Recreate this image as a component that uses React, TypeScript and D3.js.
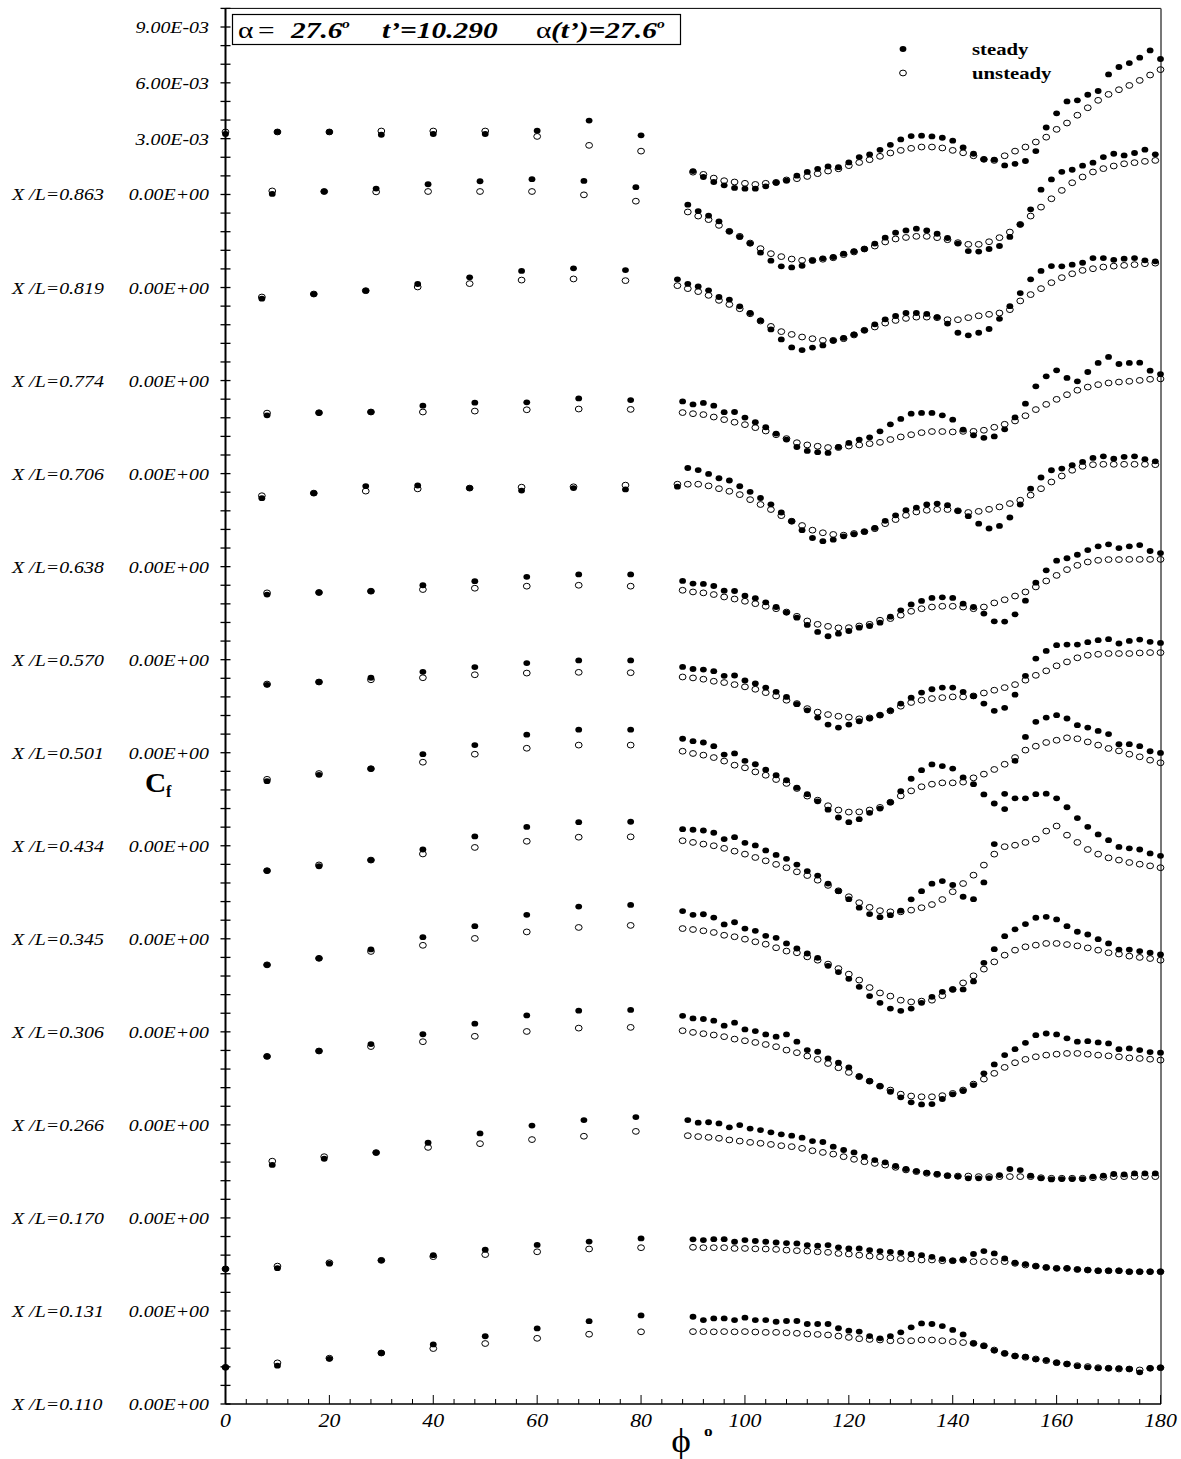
import React from "react";
import * as d3 from "d3";

const WIDTH = 1181;
const HEIGHT = 1459;
const FONT = "'Liberation Serif', 'Times New Roman', serif";

// Axial stations, bottom to top. Each one is lifted by STATION_SHIFT (x 1e-3).
const stations = ["0.110", "0.131", "0.170", "0.266", "0.306", "0.345", "0.434", "0.501", "0.570", "0.638", "0.706", "0.774", "0.819", "0.863"];
const STATION_SHIFT = 5;
// first azimuth of the coarse (every 10 deg) and fine (every 2 deg) samples
const sparseStart = [0, 0, 9, 8, 8, 8, 8, 8, 8, 7, 8, 7, 9, 0];
const denseStart = [90, 90, 89, 88, 88, 88, 88, 88, 88, 87, 88, 87, 89, 90];
const SPARSE_STEP = 10;
const DENSE_STEP = 2;

const topTickValues = [3, 6, 9];
const topTickLabels = ["3.00E-03", "6.00E-03", "9.00E-03"];
const xTickValues = [0, 20, 40, 60, 80, 100, 120, 140, 160, 180];

// Skin friction Cf x 1e3
// X/L = 0.110
const sparseSteady110 = [1.97, 2.06, 2.43, 2.74, 3.2, 3.64, 4.06, 4.45, 4.76];
const sparseUnsteady110 = [1.97, 2.21, 2.46, 2.74, 2.98, 3.25, 3.53, 3.75, 3.88];
const denseSteady110 = [4.69, 4.51, 4.6, 4.6, 4.51, 4.64, 4.51, 4.51, 4.42, 4.46, 4.46, 4.3, 4.3, 4.3, 4.07, 3.94, 3.89, 3.65, 3.53, 3.65, 3.85, 4.12, 4.33, 4.3, 4.19, 3.98, 3.74, 3.26, 3.12, 2.87, 2.72, 2.58, 2.54, 2.4, 2.36, 2.22, 2.15, 2.04, 1.97, 1.92, 1.92, 1.92, 1.88, 1.7, 1.92, 1.95];
const denseUnsteady110 = [3.89, 3.89, 3.88, 3.89, 3.88, 3.89, 3.87, 3.85, 3.85, 3.83, 3.8, 3.76, 3.74, 3.71, 3.65, 3.58, 3.51, 3.47, 3.44, 3.4, 3.4, 3.4, 3.44, 3.44, 3.4, 3.35, 3.3, 3.26, 3.13, 2.9, 2.72, 2.58, 2.51, 2.42, 2.33, 2.22, 2.15, 2.06, 2.01, 1.95, 1.92, 1.88, 1.88, 1.83, 1.92, 1.95];
// X/L = 0.131
const sparseSteady131 = [2.26, 2.3, 2.54, 2.72, 3.0, 3.29, 3.55, 3.73, 3.9];
const sparseUnsteady131 = [2.26, 2.41, 2.59, 2.72, 2.92, 3.03, 3.18, 3.33, 3.4];
const denseSteady131 = [3.85, 3.81, 3.86, 3.86, 3.72, 3.81, 3.76, 3.72, 3.68, 3.65, 3.63, 3.54, 3.51, 3.54, 3.42, 3.36, 3.36, 3.27, 3.22, 3.18, 3.13, 3.06, 3.0, 2.91, 2.79, 2.7, 2.77, 3.06, 3.22, 3.09, 2.82, 2.59, 2.52, 2.41, 2.34, 2.29, 2.29, 2.23, 2.2, 2.16, 2.16, 2.16, 2.11, 2.11, 2.11, 2.11];
const denseUnsteady131 = [3.42, 3.4, 3.4, 3.4, 3.36, 3.36, 3.34, 3.33, 3.31, 3.27, 3.24, 3.22, 3.18, 3.15, 3.09, 3.06, 3.0, 2.95, 2.91, 2.86, 2.82, 2.79, 2.74, 2.74, 2.7, 2.7, 2.74, 2.65, 2.65, 2.65, 2.65, 2.56, 2.47, 2.41, 2.34, 2.29, 2.29, 2.23, 2.2, 2.16, 2.16, 2.16, 2.11, 2.11, 2.11, 2.11];
// X/L = 0.170
const sparseSteady170 = [2.85, 3.18, 3.51, 4.04, 4.54, 4.96, 5.26, 5.42];
const sparseUnsteady170 = [3.05, 3.29, 3.51, 3.79, 3.99, 4.21, 4.39, 4.65];
const denseSteady170 = [5.26, 5.12, 5.14, 5.08, 4.87, 4.99, 4.8, 4.72, 4.6, 4.49, 4.42, 4.31, 4.13, 4.08, 3.83, 3.65, 3.52, 3.29, 3.11, 2.99, 2.79, 2.63, 2.52, 2.43, 2.36, 2.27, 2.22, 2.13, 2.13, 2.14, 2.3, 2.63, 2.57, 2.27, 2.13, 2.07, 2.09, 2.09, 2.09, 2.22, 2.27, 2.36, 2.34, 2.39, 2.39, 2.39];
const denseUnsteady170 = [4.42, 4.37, 4.33, 4.28, 4.19, 4.13, 4.06, 4.01, 3.95, 3.88, 3.83, 3.74, 3.61, 3.52, 3.43, 3.29, 3.15, 3.02, 2.93, 2.84, 2.72, 2.58, 2.49, 2.4, 2.34, 2.27, 2.25, 2.25, 2.22, 2.22, 2.22, 2.22, 2.22, 2.22, 2.16, 2.13, 2.13, 2.13, 2.13, 2.16, 2.18, 2.22, 2.22, 2.22, 2.22, 2.22];
// X/L = 0.266
const sparseSteady266 = [3.68, 3.97, 4.34, 4.87, 5.44, 5.88, 6.14, 6.18];
const sparseUnsteady266 = [3.68, 3.97, 4.21, 4.47, 4.76, 5.02, 5.2, 5.24];
const denseSteady266 = [5.86, 5.72, 5.69, 5.6, 5.33, 5.49, 5.13, 5.04, 4.86, 4.74, 4.86, 4.47, 4.02, 3.93, 3.57, 3.34, 3.09, 2.62, 2.35, 2.08, 1.78, 1.48, 1.21, 1.1, 1.12, 1.39, 1.64, 1.82, 2.14, 2.77, 3.25, 3.75, 4.07, 4.41, 4.82, 4.91, 4.86, 4.65, 4.47, 4.5, 4.43, 4.38, 4.07, 4.11, 4.02, 3.91, 3.88];
const denseUnsteady266 = [5.06, 4.97, 4.9, 4.83, 4.74, 4.61, 4.52, 4.43, 4.32, 4.2, 4.02, 3.88, 3.7, 3.52, 3.3, 3.07, 2.82, 2.59, 2.35, 2.08, 1.87, 1.65, 1.55, 1.51, 1.51, 1.57, 1.69, 1.87, 2.19, 2.46, 2.77, 3.09, 3.34, 3.52, 3.66, 3.75, 3.8, 3.84, 3.84, 3.8, 3.75, 3.71, 3.66, 3.6, 3.57, 3.53, 3.48];
// X/L = 0.306
const sparseSteady306 = [3.6, 3.95, 4.43, 5.09, 5.68, 6.29, 6.73, 6.82];
const sparseUnsteady306 = [3.6, 3.95, 4.32, 4.65, 5.02, 5.37, 5.61, 5.72];
const denseSteady306 = [6.49, 6.29, 6.32, 6.14, 5.77, 5.89, 5.55, 5.43, 5.16, 5.05, 4.75, 4.48, 4.21, 3.98, 3.55, 3.21, 2.85, 2.42, 1.92, 1.56, 1.25, 1.13, 1.25, 1.56, 1.88, 2.15, 2.28, 2.28, 2.71, 3.71, 4.44, 5.14, 5.51, 5.79, 6.13, 6.18, 6.04, 5.68, 5.38, 5.23, 4.98, 4.75, 4.42, 4.42, 4.34, 4.25, 4.16];
const denseUnsteady306 = [5.55, 5.5, 5.43, 5.34, 5.19, 5.11, 4.98, 4.84, 4.71, 4.52, 4.34, 4.25, 4.03, 3.85, 3.64, 3.4, 3.1, 2.78, 2.38, 2.09, 1.92, 1.7, 1.61, 1.65, 1.7, 1.94, 2.28, 2.63, 3.01, 3.37, 3.76, 4.12, 4.39, 4.57, 4.66, 4.75, 4.75, 4.69, 4.62, 4.51, 4.39, 4.25, 4.18, 4.07, 4.0, 3.94, 3.85];
// X/L = 0.345
const sparseSteady345 = [3.66, 3.9, 4.23, 4.8, 5.5, 6.01, 6.27, 6.29];
const sparseUnsteady345 = [3.66, 3.97, 4.23, 4.56, 4.91, 5.24, 5.46, 5.48];
const denseSteady345 = [5.89, 5.86, 5.82, 5.7, 5.36, 5.46, 5.16, 5.02, 4.75, 4.51, 4.3, 3.99, 3.64, 3.4, 2.97, 2.56, 2.13, 1.67, 1.33, 1.16, 1.27, 1.51, 2.12, 2.56, 2.96, 3.1, 2.89, 2.26, 2.13, 3.03, 5.09, 7.79, 7.55, 7.55, 7.77, 7.8, 7.55, 7.07, 6.49, 6.02, 5.61, 5.3, 4.94, 4.86, 4.8, 4.59, 4.46];
const denseUnsteady345 = [5.27, 5.18, 5.09, 5.0, 4.86, 4.71, 4.55, 4.37, 4.19, 4.0, 3.82, 3.6, 3.4, 3.15, 2.87, 2.58, 2.26, 1.94, 1.69, 1.51, 1.45, 1.45, 1.54, 1.67, 1.84, 2.11, 2.53, 2.97, 3.42, 3.96, 4.55, 4.95, 5.03, 5.18, 5.36, 5.79, 6.06, 5.57, 5.18, 4.8, 4.55, 4.35, 4.23, 4.1, 4.01, 3.92, 3.82];
// X/L = 0.434
const sparseSteady434 = [3.47, 3.81, 4.14, 4.92, 5.41, 5.97, 6.24, 6.24];
const sparseUnsteady434 = [3.57, 3.88, 4.14, 4.49, 4.92, 5.24, 5.41, 5.41];
const denseSteady434 = [5.75, 5.62, 5.55, 5.35, 4.9, 4.96, 4.56, 4.38, 4.09, 3.79, 3.52, 3.12, 2.77, 2.39, 1.94, 1.52, 1.27, 1.43, 1.77, 2.0, 2.33, 2.93, 3.6, 4.06, 4.37, 4.28, 4.15, 3.67, 3.31, 2.76, 2.27, 1.97, 4.56, 5.85, 6.66, 6.89, 7.02, 6.84, 6.48, 6.35, 6.17, 6.0, 5.46, 5.46, 5.35, 5.08, 4.99];
const denseUnsteady434 = [5.08, 4.96, 4.87, 4.74, 4.55, 4.33, 4.19, 3.97, 3.79, 3.56, 3.35, 3.08, 2.67, 2.45, 2.15, 1.92, 1.81, 1.82, 1.92, 2.06, 2.34, 2.68, 2.95, 3.17, 3.31, 3.38, 3.38, 3.42, 3.65, 3.85, 4.1, 4.38, 4.74, 5.14, 5.35, 5.55, 5.67, 5.8, 5.75, 5.58, 5.41, 5.23, 5.1, 4.92, 4.78, 4.6, 4.46];
// X/L = 0.501
const sparseSteady501 = [3.65, 3.8, 4.03, 4.35, 4.6, 4.82, 4.96, 4.96];
const sparseUnsteady501 = [3.69, 3.8, 3.92, 4.03, 4.19, 4.28, 4.32, 4.3];
const denseSteady501 = [4.61, 4.5, 4.47, 4.38, 4.13, 4.15, 3.88, 3.72, 3.5, 3.27, 3.0, 2.61, 2.28, 1.89, 1.51, 1.35, 1.51, 1.69, 1.84, 2.02, 2.28, 2.64, 2.96, 3.23, 3.41, 3.5, 3.5, 3.27, 3.04, 2.64, 2.25, 2.41, 3.12, 4.13, 5.06, 5.47, 5.78, 5.81, 5.81, 5.94, 6.05, 6.1, 5.87, 6.01, 6.08, 5.96, 5.9];
const denseUnsteady501 = [4.07, 4.02, 3.95, 3.84, 3.77, 3.66, 3.54, 3.41, 3.23, 3.05, 2.82, 2.64, 2.37, 2.18, 2.05, 1.96, 1.91, 1.82, 1.87, 2.02, 2.25, 2.5, 2.7, 2.82, 2.91, 2.96, 3.0, 3.0, 3.05, 3.21, 3.36, 3.5, 3.66, 3.9, 4.16, 4.4, 4.67, 4.88, 5.1, 5.24, 5.29, 5.33, 5.33, 5.33, 5.36, 5.38, 5.38];
// X/L = 0.570
const sparseSteady570 = [3.5, 3.61, 3.68, 4.0, 4.22, 4.45, 4.58, 4.58];
const sparseUnsteady570 = [3.59, 3.61, 3.68, 3.77, 3.84, 3.95, 4.0, 3.95];
const denseSteady570 = [4.23, 4.09, 4.07, 3.96, 3.71, 3.69, 3.44, 3.3, 3.08, 2.83, 2.53, 2.26, 1.87, 1.49, 1.26, 1.4, 1.54, 1.72, 1.81, 1.99, 2.31, 2.65, 2.97, 3.16, 3.32, 3.35, 3.32, 3.01, 2.83, 2.48, 2.06, 2.05, 2.44, 3.17, 4.14, 4.8, 5.32, 5.45, 5.64, 5.89, 6.09, 6.2, 6.0, 6.09, 6.16, 5.84, 5.73];
const denseUnsteady570 = [3.73, 3.64, 3.59, 3.5, 3.37, 3.26, 3.14, 3.01, 2.87, 2.74, 2.56, 2.33, 2.08, 1.9, 1.79, 1.71, 1.72, 1.81, 1.9, 2.12, 2.21, 2.39, 2.6, 2.74, 2.83, 2.87, 2.87, 2.83, 2.74, 2.83, 3.05, 3.22, 3.42, 3.64, 3.91, 4.23, 4.53, 4.84, 5.07, 5.25, 5.34, 5.38, 5.38, 5.39, 5.39, 5.39, 5.39];
// X/L = 0.638
const sparseSteady638 = [3.68, 3.95, 4.33, 4.36, 4.22, 4.09, 4.22, 4.15];
const sparseUnsteady638 = [3.81, 3.95, 4.06, 4.18, 4.22, 4.27, 4.29, 4.38];
const denseSteady638 = [4.3, 5.3, 5.19, 4.98, 4.75, 4.63, 4.32, 4.02, 3.69, 3.35, 2.91, 2.44, 1.96, 1.54, 1.37, 1.45, 1.63, 1.74, 1.88, 2.08, 2.46, 2.76, 3.03, 3.17, 3.34, 3.39, 3.3, 3.0, 2.71, 2.31, 2.05, 2.19, 2.64, 3.34, 4.19, 4.79, 5.18, 5.27, 5.45, 5.63, 5.84, 5.93, 5.8, 5.9, 5.93, 5.77, 5.66];
const denseUnsteady638 = [4.43, 4.43, 4.43, 4.34, 4.19, 4.05, 3.87, 3.6, 3.34, 3.07, 2.74, 2.44, 2.21, 1.96, 1.82, 1.73, 1.69, 1.78, 1.88, 2.04, 2.31, 2.53, 2.76, 2.94, 3.03, 3.08, 3.07, 3.0, 2.91, 2.97, 3.08, 3.21, 3.39, 3.57, 3.84, 4.19, 4.55, 4.87, 5.18, 5.39, 5.48, 5.5, 5.5, 5.5, 5.5, 5.5, 5.48];
// X/L = 0.706
const sparseSteady706 = [3.13, 3.27, 3.31, 3.65, 3.81, 3.83, 4.04, 3.95];
const sparseUnsteady706 = [3.25, 3.27, 3.31, 3.31, 3.36, 3.43, 3.47, 3.45];
const denseSteady706 = [3.88, 3.72, 3.8, 3.65, 3.3, 3.31, 3.01, 2.76, 2.49, 2.15, 1.83, 1.43, 1.22, 1.15, 1.11, 1.43, 1.65, 1.83, 1.95, 2.27, 2.65, 2.94, 3.22, 3.26, 3.26, 3.13, 2.9, 2.36, 2.06, 1.92, 2.0, 2.38, 3.02, 3.76, 4.69, 5.23, 5.55, 5.14, 4.96, 5.46, 5.95, 6.27, 5.89, 5.95, 5.96, 5.53, 5.35];
const denseUnsteady706 = [3.28, 3.22, 3.17, 3.04, 2.9, 2.76, 2.63, 2.47, 2.29, 2.09, 1.88, 1.66, 1.54, 1.47, 1.4, 1.4, 1.48, 1.54, 1.61, 1.68, 1.83, 1.97, 2.09, 2.2, 2.26, 2.26, 2.24, 2.27, 2.27, 2.33, 2.49, 2.65, 2.83, 3.11, 3.44, 3.72, 3.99, 4.24, 4.48, 4.65, 4.78, 4.87, 4.92, 4.96, 5.01, 5.07, 5.09];
// X/L = 0.774
const sparseSteady774 = [4.4, 4.65, 4.83, 5.19, 5.55, 5.89, 6.03, 5.94];
const sparseUnsteady774 = [4.49, 4.65, 4.83, 5.03, 5.21, 5.4, 5.46, 5.37];
const denseSteady774 = [5.44, 5.2, 5.06, 4.85, 4.49, 4.35, 3.99, 3.63, 3.23, 2.75, 2.21, 1.78, 1.64, 1.77, 1.89, 2.14, 2.29, 2.48, 2.7, 3.02, 3.29, 3.47, 3.63, 3.63, 3.58, 3.41, 3.06, 2.57, 2.43, 2.57, 2.77, 3.32, 4.0, 4.7, 5.44, 5.89, 6.15, 6.14, 6.23, 6.33, 6.58, 6.58, 6.49, 6.55, 6.58, 6.46, 6.41];
const denseUnsteady774 = [5.1, 4.94, 4.78, 4.58, 4.31, 4.09, 3.86, 3.59, 3.2, 2.91, 2.63, 2.48, 2.34, 2.25, 2.16, 2.16, 2.25, 2.45, 2.7, 2.88, 3.09, 3.23, 3.34, 3.41, 3.41, 3.38, 3.27, 3.27, 3.38, 3.48, 3.56, 3.63, 3.81, 4.28, 4.62, 4.94, 5.26, 5.53, 5.74, 5.92, 6.01, 6.1, 6.15, 6.19, 6.23, 6.28, 6.31];
// X/L = 0.819
const sparseSteady819 = [5.03, 5.16, 5.32, 5.55, 5.71, 5.82, 5.73, 5.39];
const sparseUnsteady819 = [5.19, 5.16, 5.14, 5.16, 5.16, 5.16, 4.98, 4.64];
const denseSteady819 = [4.45, 4.11, 3.86, 3.56, 3.02, 2.72, 2.36, 1.87, 1.44, 1.14, 1.08, 1.17, 1.44, 1.57, 1.64, 1.82, 1.95, 2.07, 2.36, 2.68, 2.95, 3.07, 3.16, 3.07, 2.89, 2.66, 2.36, 1.96, 1.93, 2.07, 2.23, 2.72, 3.38, 4.2, 5.26, 5.81, 6.22, 6.33, 6.55, 6.71, 7.01, 7.19, 7.1, 7.23, 7.41, 7.16];
const denseUnsteady819 = [4.06, 3.84, 3.65, 3.34, 3.02, 2.75, 2.39, 2.09, 1.82, 1.66, 1.53, 1.46, 1.46, 1.52, 1.6, 1.77, 1.91, 2.07, 2.23, 2.45, 2.61, 2.69, 2.75, 2.75, 2.68, 2.57, 2.41, 2.32, 2.32, 2.46, 2.68, 2.98, 3.39, 3.84, 4.32, 4.77, 5.22, 5.63, 5.94, 6.21, 6.39, 6.53, 6.65, 6.71, 6.78, 6.83];
// X/L = 0.863
const sparseSteady863 = [3.25, 3.36, 3.36, 3.21, 3.25, 3.25, 3.43, 3.97, 3.18];
const sparseUnsteady863 = [3.36, 3.36, 3.36, 3.41, 3.41, 3.41, 3.12, 2.64, 2.33];
const denseSteady863 = [1.26, 0.94, 0.67, 0.49, 0.35, 0.31, 0.31, 0.44, 0.63, 0.74, 1.01, 1.21, 1.38, 1.51, 1.47, 1.72, 2.01, 2.15, 2.4, 2.67, 2.96, 3.14, 3.16, 3.12, 3.05, 2.89, 2.53, 2.19, 1.89, 1.87, 1.56, 1.65, 1.8, 2.33, 3.6, 4.36, 5.0, 5.06, 5.36, 5.56, 6.45, 6.85, 7.06, 7.35, 7.74, 7.28];
const denseUnsteady863 = [1.2, 1.08, 0.88, 0.74, 0.67, 0.6, 0.54, 0.6, 0.65, 0.78, 0.85, 0.97, 1.12, 1.26, 1.38, 1.55, 1.72, 1.87, 2.05, 2.23, 2.37, 2.48, 2.55, 2.55, 2.5, 2.37, 2.24, 2.08, 1.89, 1.83, 2.08, 2.33, 2.55, 2.82, 3.08, 3.5, 3.84, 4.26, 4.66, 5.06, 5.38, 5.63, 5.86, 6.13, 6.42, 6.71];

const sparseSteady = [sparseSteady110, sparseSteady131, sparseSteady170, sparseSteady266, sparseSteady306, sparseSteady345, sparseSteady434, sparseSteady501, sparseSteady570, sparseSteady638, sparseSteady706, sparseSteady774, sparseSteady819, sparseSteady863];
const sparseUnsteady = [sparseUnsteady110, sparseUnsteady131, sparseUnsteady170, sparseUnsteady266, sparseUnsteady306, sparseUnsteady345, sparseUnsteady434, sparseUnsteady501, sparseUnsteady570, sparseUnsteady638, sparseUnsteady706, sparseUnsteady774, sparseUnsteady819, sparseUnsteady863];
const denseSteady = [denseSteady110, denseSteady131, denseSteady170, denseSteady266, denseSteady306, denseSteady345, denseSteady434, denseSteady501, denseSteady570, denseSteady638, denseSteady706, denseSteady774, denseSteady819, denseSteady863];
const denseUnsteady = [denseUnsteady110, denseUnsteady131, denseUnsteady170, denseUnsteady266, denseUnsteady306, denseUnsteady345, denseUnsteady434, denseUnsteady501, denseUnsteady570, denseUnsteady638, denseUnsteady706, denseUnsteady774, denseUnsteady819, denseUnsteady863];

type Pt = { phi: number; v: number };

function buildSeries(sparse: number[][], dense: number[][]): Pt[] {
  const out: Pt[] = [];
  stations.forEach((_, i) => {
    const lift = i * STATION_SHIFT;
    sparse[i].forEach((v, k) => out.push({ phi: sparseStart[i] + k * SPARSE_STEP, v: v + lift }));
    dense[i].forEach((v, k) => out.push({ phi: denseStart[i] + k * DENSE_STEP, v: v + lift }));
  });
  return out;
}

const steadyPts = buildSeries(sparseSteady, denseSteady);
const unsteadyPts = buildSeries(sparseUnsteady, denseUnsteady);

// horizontally stretched serif text
function SText(props: {
  x: number; y: number; sx?: number; size: number; anchor?: string;
  weight?: string; italic?: boolean; children: React.ReactNode;
}) {
  const { x, y, sx = 1.17, size, anchor = "start", weight = "normal", italic = false, children } = props;
  return (
    <text
      transform={`translate(${x},${y}) scale(${sx},1)`}
      textAnchor={anchor}
      fontSize={size}
      fontWeight={weight}
      fontStyle={italic ? "italic" : "normal"}
      fontFamily={FONT}
      fill="#000"
    >
      {children}
    </text>
  );
}

const RX = 3.4;
const RY = 2.9;

export default function App() {
  const x = d3.scaleLinear().domain([0, 180]).range([225.5, 1160.5]);
  const y = d3.scaleLinear().domain([0, 75]).range([1404, 8.4]);

  const left = x(0);
  const right = x(180) + 0.5;
  const bottom = y(0);
  const top = y(75);

  const yTicks = d3.range(0, 76, 1);
  const xMinor = d3.range(0, 181, 4);
  const topBase = (stations.length - 1) * STATION_SHIFT;

  return (
    <div style={{ position: "absolute", left: 0, top: 0 }}>
      <svg width={WIDTH} height={HEIGHT} viewBox={`0 0 ${WIDTH} ${HEIGHT}`} style={{ display: "block", background: "#fff" }}>
        <rect x={0} y={0} width={WIDTH} height={HEIGHT} fill="#fff" />

        {/* frame */}
        <line x1={left} x2={right} y1={top} y2={top} stroke="#000" strokeWidth={1} />
        <line x1={right} x2={right} y1={top} y2={bottom} stroke="#555" strokeWidth={1.6} />
        <line x1={left} x2={left} y1={top} y2={bottom} stroke="#000" strokeWidth={2} />
        <line x1={left} x2={right} y1={bottom} y2={bottom} stroke="#000" strokeWidth={1.5} />

        {/* left ticks */}
        {yTicks.map((t) => (
          <line key={`yt${t}`} x1={left - 5} x2={left + 5} y1={y(t)} y2={y(t)} stroke="#000" strokeWidth={1.3} />
        ))}

        {/* bottom ticks */}
        {xMinor.map((t) => (
          <line key={`xt${t}`} x1={x(t)} x2={x(t)} y1={bottom} y2={bottom - (t % 20 === 0 ? 9 : 5)} stroke="#000" strokeWidth={1} />
        ))}

        {/* station labels */}
        {stations.map((s, i) => (
          <g key={`lab${s}`}>
            <SText x={12} y={y(i * STATION_SHIFT) + 6} size={17} italic>{`X /L=${s}`}</SText>
            <SText x={209} y={y(i * STATION_SHIFT) + 6} size={17} italic anchor="end">0.00E+00</SText>
          </g>
        ))}
        {topTickValues.map((t, k) => (
          <SText key={`tl${t}`} x={209} y={y(topBase + t) + 6} size={17} italic anchor="end">{topTickLabels[k]}</SText>
        ))}

        {/* x tick labels */}
        {xTickValues.map((t) => (
          <SText key={`xl${t}`} x={x(t)} y={1427} size={19} italic anchor="middle" sx={1.15}>{String(t)}</SText>
        ))}

        {/* axis titles */}
        <SText x={681} y={1452} size={34} anchor="middle" sx={1.1}>ϕ</SText>
        <SText x={704} y={1436} size={15} weight="bold" sx={1.15}>o</SText>
        <SText x={145} y={792} size={28} weight="bold" sx={1.05}>C</SText>
        <SText x={166} y={797} size={16} weight="bold" sx={1.0}>f</SText>

        {/* title box */}
        <rect x={232.5} y={14.5} width={448} height={30} fill="none" stroke="#000" strokeWidth={1.2} />
        <SText x={238} y={37.5} size={23} sx={1.28}>α</SText>
        <SText x={258} y={37.5} size={23} sx={1.28}>=</SText>
        <SText x={291} y={37.5} size={23} sx={1.28} weight="bold" italic>27.6</SText>
        <SText x={342} y={28} size={13} sx={1.2} weight="bold" italic>o</SText>
        <SText x={382} y={37.5} size={23} sx={1.28} weight="bold" italic>t’=10.290</SText>
        <SText x={536} y={37.5} size={23} sx={1.28}>α</SText>
        <SText x={551} y={37.5} size={23} sx={1.28} weight="bold" italic>(t’)=27.6</SText>
        <SText x={657} y={28} size={13} sx={1.2} weight="bold" italic>o</SText>

        {/* legend */}
        <ellipse cx={903} cy={49} rx={RX} ry={RY} fill="#000" />
        <ellipse cx={903} cy={73} rx={RX} ry={RY} fill="none" stroke="#000" strokeWidth={1} />
        <SText x={972} y={55} size={17} weight="bold" sx={1.22}>steady</SText>
        <SText x={972} y={79} size={17} weight="bold" sx={1.22}>unsteady</SText>

        {/* unsteady: open markers */}
        <g>
          {unsteadyPts.map((p, k) => (
            <ellipse key={`u${k}`} cx={x(p.phi)} cy={y(p.v)} rx={RX} ry={RY} fill="none" stroke="#000" strokeWidth={1} />
          ))}
        </g>
        {/* steady: filled markers */}
        <g>
          {steadyPts.map((p, k) => (
            <ellipse key={`s${k}`} cx={x(p.phi)} cy={y(p.v)} rx={RX} ry={RY} fill="#000" />
          ))}
        </g>
      </svg>
    </div>
  );
}
